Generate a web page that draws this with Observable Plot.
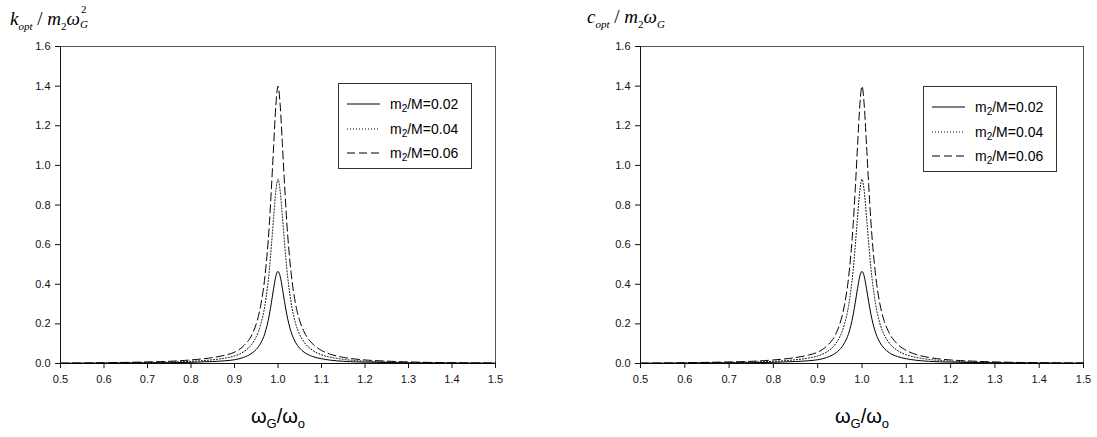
<!DOCTYPE html>
<html>
<head>
<meta charset="utf-8">
<script src="https://cdn.jsdelivr.net/npm/d3@7"></script>
<script src="https://cdn.jsdelivr.net/npm/@observablehq/plot@0.6"></script>
<style>
  html, body { margin: 0; padding: 0; background: white; }
  #wrap { position: relative; width: 1097px; height: 437px; overflow: hidden; background: white; }
  .chart { position: absolute; top: 0; }
  .ytitle { position: absolute; top: 6px; line-height: 22px; font-family: "Liberation Serif", "Times New Roman", serif; font-size: 19px; color: #000; white-space: nowrap; }
  .ytitle sub { font-size: 11px; vertical-align: -5px; line-height: 0; }
  .stack { display: inline-block; position: relative; width: 10px; height: 19px; vertical-align: baseline; }
  .stack .s1 { position: absolute; left: 1px; top: -3px; font-size: 11px; line-height: 12px; }
  .stack .s2 { position: absolute; left: 0; top: 12px; font-size: 11px; line-height: 12px; font-style: italic; }
  .xtitle { position: absolute; top: 405px; font-family: "Liberation Sans", Arial, sans-serif; font-size: 20px; line-height: 22px; color: #000; white-space: nowrap; transform: translateX(-50%); }
  .xtitle sub { font-size: 13px; vertical-align: -5px; line-height: 0; }
  .legend { position: absolute; border: 1px solid #333; background: white; width: 134px; height: 86px; box-sizing: border-box; font-family: "Liberation Sans", Arial, sans-serif; font-size: 14px; color: #000; }
  .legend .row { position: absolute; left: 8px; height: 20px; display: flex; align-items: center; }
  .legend .row svg { margin-right: 10px; }
  .legend sub { font-size: 10px; vertical-align: -3px; line-height: 0; }
</style>
</head>
<body>
<div id="wrap"></div>
<script>
// ---- data ----
const xValues = [0.50,0.60,0.70,0.75,0.80,0.85,0.88,0.90,0.92,0.94,0.95,0.96,0.97,0.98,0.985,0.99,0.995,1.00,1.005,1.01,1.015,1.02,1.03,1.04,1.05,1.06,1.08,1.10,1.12,1.15,1.20,1.25,1.30,1.40,1.50];

// left panel: k_opt / m2 wG^2
const kSolid  = [0.001,0.002,0.003,0.004,0.006,0.010,0.014,0.019,0.030,0.052,0.071,0.102,0.153,0.245,0.310,0.380,0.440,0.465,0.440,0.380,0.312,0.250,0.160,0.108,0.077,0.057,0.035,0.024,0.017,0.011,0.007,0.005,0.003,0.002,0.001];
const kDotted = [0.001,0.002,0.005,0.007,0.011,0.019,0.028,0.038,0.058,0.098,0.135,0.195,0.295,0.470,0.600,0.740,0.870,0.930,0.870,0.745,0.610,0.485,0.310,0.205,0.145,0.108,0.066,0.044,0.032,0.021,0.012,0.008,0.005,0.003,0.002];
const kDashed = [0.002,0.004,0.008,0.011,0.018,0.030,0.043,0.057,0.087,0.145,0.200,0.290,0.440,0.700,0.890,1.100,1.300,1.400,1.305,1.110,0.905,0.720,0.460,0.305,0.215,0.160,0.098,0.066,0.047,0.031,0.018,0.012,0.008,0.004,0.003];

// right panel: c_opt / m2 wG
const cSolid  = [0.001,0.002,0.003,0.004,0.006,0.010,0.014,0.019,0.030,0.052,0.071,0.102,0.153,0.245,0.310,0.380,0.440,0.465,0.440,0.380,0.312,0.250,0.160,0.108,0.077,0.057,0.035,0.024,0.017,0.011,0.007,0.005,0.003,0.002,0.001];
const cDotted = [0.001,0.002,0.005,0.007,0.011,0.019,0.028,0.038,0.058,0.098,0.135,0.195,0.295,0.470,0.600,0.740,0.870,0.930,0.870,0.745,0.610,0.485,0.310,0.205,0.145,0.108,0.066,0.044,0.032,0.021,0.012,0.008,0.005,0.003,0.002];
const cDashed = [0.002,0.004,0.008,0.011,0.018,0.030,0.043,0.057,0.087,0.145,0.200,0.290,0.440,0.700,0.890,1.100,1.300,1.400,1.305,1.110,0.905,0.720,0.460,0.305,0.215,0.160,0.098,0.066,0.047,0.031,0.018,0.012,0.008,0.004,0.003];

const seriesNames = ["0.02", "0.04", "0.06"];
const xTicks = [0.5,0.6,0.7,0.8,0.9,1.0,1.1,1.2,1.3,1.4,1.5];
const yTicks = [0,0.2,0.4,0.6,0.8,1.0,1.2,1.4,1.6];

const dashes = ["none", "1,2", "8,4"];

function table(ys) { return xValues.map((x, i) => ({x, y: ys[i]})); }

function makeChart(series, width, marginLeft, marginRight) {
  const fmt = d3.format(".1f");
  return Plot.plot({
    width, height: 437,
    marginLeft, marginRight, marginTop: 46, marginBottom: 74,
    x: {domain: [0.5, 1.5], label: null},
    y: {domain: [0, 1.6], label: null},
    style: {fontFamily: "'Liberation Sans', Arial, sans-serif", fontSize: "11px", color: "#111", background: "white", overflow: "visible"},
    marks: [
      Plot.frame({stroke: "#555", strokeWidth: 1}),
      Plot.axisX({ticks: xTicks, tickFormat: fmt, tickSize: 5, tickPadding: 7, label: null, stroke: "#111"}),
      Plot.axisY({ticks: yTicks, tickFormat: fmt, tickSize: 5, tickPadding: 5, label: null, stroke: "#111"}),
      Plot.ruleX([0.5], {stroke: "#111"}),
      Plot.ruleY([0], {stroke: "#111"}),
      ...series.map((ys, i) => Plot.line(table(ys), {x: "x", y: "y", stroke: "#000", strokeWidth: 1, strokeDasharray: dashes[i] === "none" ? undefined : dashes[i], curve: "monotone-x"}))
    ]
  });
}

const wrap = document.getElementById("wrap");

const left = makeChart([kSolid, kDotted, kDashed], 540, 60, 45);
left.classList.add("chart"); left.style.left = "0px";
wrap.appendChild(left);

const right = makeChart([cSolid, cDotted, cDashed], 517, 60, 14);
right.classList.add("chart"); right.style.left = "580px";
wrap.appendChild(right);

// titles
function addHTML(html) { const d = document.createElement("div"); d.innerHTML = html; const el = d.firstElementChild; wrap.appendChild(el); return el; }
addHTML(`<div class="ytitle" style="left:10px"><i>k</i><sub><i>opt</i></sub> / <i>m</i><sub>2</sub><i>ω</i><span class="stack"><span class="s1">2</span><span class="s2">G</span></span></div>`);
addHTML(`<div class="ytitle" style="left:587px"><i>c</i><sub><i>opt</i></sub> / <i>m</i><sub>2</sub><i>ω</i><sub><i>G</i></sub></div>`);
addHTML(`<div class="xtitle" style="left:278px">ω<sub>G</sub>/ω<sub>o</sub></div>`);
addHTML(`<div class="xtitle" style="left:862px">ω<sub>G</sub>/ω<sub>o</sub></div>`);

// legends
function legend(leftPx, topPx) {
  const rows = seriesNames.map((name, i) => {
    const da = dashes[i] === "none" ? "" : `stroke-dasharray="${dashes[i]}"`;
    return `<div class="row" style="top:${10 + i * 24.5}px"><svg width="33" height="4"><line x1="0" y1="2" x2="33" y2="2" stroke="#000" stroke-width="1" ${da}/></svg><span>m<sub>2</sub>/M=${name}</span></div>`;
  }).join("");
  addHTML(`<div class="legend" style="left:${leftPx}px;top:${topPx}px">${rows}</div>`);
}
legend(338, 83);
legend(923, 86);
</script>
</body>
</html>
